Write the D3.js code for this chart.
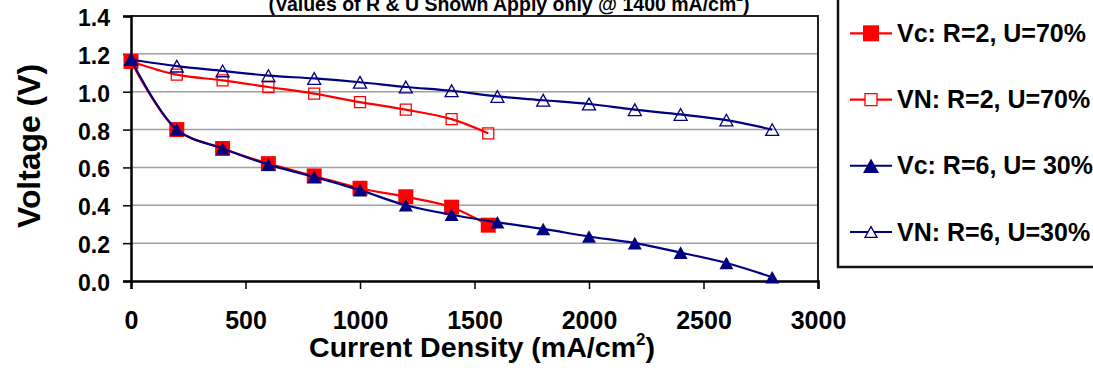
<!DOCTYPE html>
<html>
<head>
<meta charset="utf-8">
<script src="https://cdn.jsdelivr.net/npm/d3@7"></script>
<style>
  html, body { margin: 0; padding: 0; background: #fff; }
  svg { display: block; font-family: "Liberation Sans", Arial, sans-serif; font-weight: bold; }
</style>
</head>
<body>
<svg id="chart" width="1093" height="368"></svg>
<script>
// current density steps (mA/cm2)
var xR2 = [0, 200, 400, 600, 800, 1000, 1200, 1400, 1560];
var xR6 = [0, 200, 400, 600, 800, 1000, 1200, 1400, 1600, 1800, 2000, 2200, 2400, 2600, 2800];

var vcR2 = [1.16, 0.80, 0.70, 0.62, 0.555, 0.49, 0.445, 0.39, 0.295];
var vnR2 = [1.16, 1.09, 1.06, 1.025, 0.99, 0.945, 0.905, 0.855, 0.78];
var vcR6 = [1.17, 0.80, 0.70, 0.615, 0.55, 0.48, 0.40, 0.35, 0.31, 0.275, 0.235, 0.20, 0.15, 0.095, 0.02];
var vnR6 = [1.17, 1.135, 1.11, 1.085, 1.07, 1.05, 1.025, 1.005, 0.975, 0.955, 0.935, 0.905, 0.88, 0.85, 0.80];

var xTicks = [0, 500, 1000, 1500, 2000, 2500, 3000];
var yTicks = [0, 0.2, 0.4, 0.6, 0.8, 1.0, 1.2, 1.4];

var seriesNames = ['Vc: R=2, U=70%', 'VN: R=2, U=70%', 'Vc: R=6, U= 30%', 'VN: R=6, U=30%'];

var RED = '#ff0000', NAVY = '#000080';

var series = [
    {name: seriesNames[0], xs: xR2, ys: vcR2, color: RED, shape: 'square', filled: true, size: 15},
    {name: seriesNames[1], xs: xR2, ys: vnR2, color: RED, shape: 'square', filled: false, size: 11},
    {name: seriesNames[2], xs: xR6, ys: vcR6, color: NAVY, shape: 'triangle', filled: true, size: 14},
    {name: seriesNames[3], xs: xR6, ys: vnR6, color: NAVY, shape: 'triangle', filled: false, size: 13},
];

var svg = d3.select('#chart');
var pLeft = 131, pRight = 818, pTop = 16, pBottom = 281;

var x = d3.scaleLinear([0, 3000], [pLeft, pRight]);
var y = d3.scaleLinear([0, 1.4], [pBottom, pTop]);

// marker path, centred on 0,0
function markerPath(shape, s) {
    var h = s / 2;
    if (shape == 'square') {
        return 'M' + (-h) + ',' + (-h) + 'h' + s + 'v' + s + 'h' + (-s) + 'Z';
    }
    var th = s * 0.9 / 2;
    return 'M0,' + (-th) + 'L' + h + ',' + th + 'L' + (-h) + ',' + th + 'Z';
}

// gridlines
svg.append('g')
    .selectAll('line')
    .data(yTicks.filter(function(d) { return d > 0 && d < 1.4; }))
    .join('line')
    .attr('x1', pLeft).attr('x2', pRight)
    .attr('y1', function(d) { return y(d); })
    .attr('y2', function(d) { return y(d); })
    .attr('stroke', '#a0a0a0')
    .attr('stroke-width', 1.5);

// plot border (top + right)
svg.append('path')
    .attr('d', 'M' + pLeft + ',' + pTop + 'H' + pRight + 'V' + pBottom)
    .attr('fill', 'none')
    .attr('stroke', '#222')
    .attr('stroke-width', 2);

// axes
var yAxis = d3.axisLeft(y).tickValues(yTicks).tickFormat(d3.format('.1f')).tickSize(8).tickPadding(13);
var yG = svg.append('g').attr('transform', 'translate(' + pLeft + ',0)').call(yAxis);
var xAxis = d3.axisBottom(x).tickValues(xTicks).tickFormat(d3.format('d')).tickSize(8);
var xG = svg.append('g').attr('transform', 'translate(0,' + pBottom + ')').call(xAxis);

[yG, xG].forEach(function(g) {
    g.select('.domain').attr('stroke', '#000').attr('stroke-width', 2.5);
    g.selectAll('.tick line').attr('stroke', '#000').attr('stroke-width', 1.5);
    g.selectAll('.tick text').attr('fill', '#000').attr('font-family', null).attr('font-weight', 'bold');
});
yG.selectAll('.tick text')
    .attr('font-size', 23)
    .attr('dy', 9.5);
xG.selectAll('.tick text')
    .attr('font-size', 25)
    .attr('y', 48)
    .attr('dy', 0);

// series: line then markers
var line = d3.line().curve(d3.curveCatmullRom.alpha(0.5));

series.forEach(function(s) {
    var pts = s.xs.map(function(v, i) { return [x(v), y(s.ys[i])]; });
    svg.append('path')
        .attr('d', line(pts))
        .attr('fill', 'none')
        .attr('stroke', s.color)
        .attr('stroke-width', 2.2);
    svg.append('g')
        .selectAll('path')
        .data(pts)
        .join('path')
        .attr('transform', function(p) { return 'translate(' + p[0] + ',' + p[1] + ')'; })
        .attr('d', markerPath(s.shape, s.size))
        .attr('fill', s.filled ? s.color : 'none')
        .attr('stroke', s.color)
        .attr('stroke-width', s.filled ? 0 : 1.3);
});

// axis titles
var xt = svg.append('text')
    .attr('x', 482).attr('y', 357)
    .attr('text-anchor', 'middle')
    .attr('font-size', 27);
xt.append('tspan').text('Current Density (mA/cm');
xt.append('tspan').attr('font-size', 16).attr('dy', -12).text('2');
xt.append('tspan').attr('dy', 12).text(')');
xt.attr('textLength', 346).attr('lengthAdjust', 'spacingAndGlyphs');

svg.append('text')
    .attr('transform', 'translate(40,146) rotate(-90)')
    .attr('text-anchor', 'middle')
    .attr('font-size', 31)
    .attr('textLength', 164)
    .attr('lengthAdjust', 'spacingAndGlyphs')
    .text('Voltage (V)');

// chart title, cut off at the top edge
var tt = svg.append('text')
    .attr('x', 509).attr('y', 10.5)
    .attr('text-anchor', 'middle')
    .attr('font-size', 21);
tt.append('tspan').text('(Values of R & U Shown Apply only @ 1400 mA/cm');
tt.append('tspan').attr('font-size', 13).attr('dy', -10).text('2');
tt.append('tspan').attr('dy', 10).text(')');
tt.attr('textLength', 481).attr('lengthAdjust', 'spacingAndGlyphs');

// legend
var lg = svg.append('g');
lg.append('rect')
    .attr('x', 838).attr('y', -5)
    .attr('width', 300).attr('height', 272)
    .attr('fill', '#fff')
    .attr('stroke', '#111')
    .attr('stroke-width', 2.5);

var legendY = d3.scalePoint(seriesNames, [33.3, 232]);
var items = lg.selectAll('g.item')
    .data(series)
    .join('g')
    .attr('class', 'item')
    .attr('transform', function(s) { return 'translate(0,' + legendY(s.name) + ')'; });
items.append('line')
    .attr('x1', 850).attr('x2', 892)
    .attr('stroke', function(s) { return s.color; })
    .attr('stroke-width', 2.2);
items.append('path')
    .attr('transform', 'translate(871,0)')
    .attr('d', function(s) { return markerPath(s.shape, s.filled ? 16 : 12); })
    .attr('fill', function(s) { return s.filled ? s.color : '#fff'; })
    .attr('stroke', function(s) { return s.color; })
    .attr('stroke-width', function(s) { return s.filled ? 0 : 1.3; });
items.append('text')
    .attr('x', 897).attr('y', 8.5)
    .attr('font-size', 25)
    .attr('fill', '#000')
    .text(function(s) { return s.name; });
</script>
</body>
</html>
